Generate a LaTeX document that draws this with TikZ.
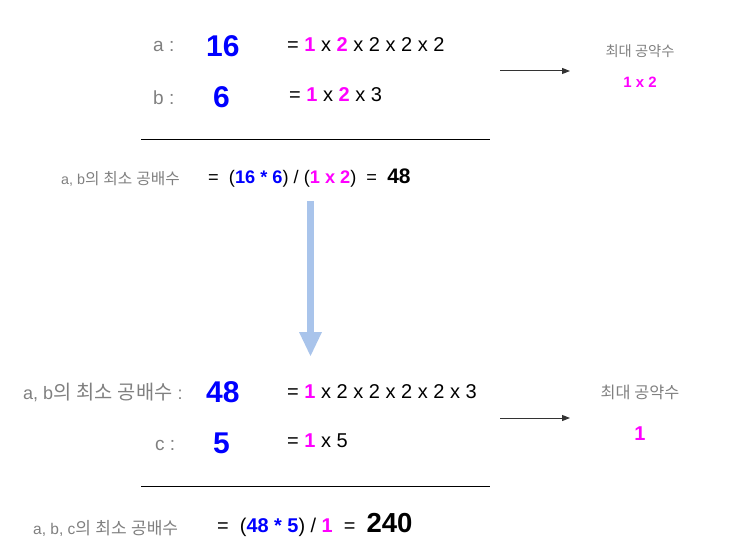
\documentclass[tikz,border=0pt]{standalone}
\usepackage{fontspec}
\setmainfont{Liberation Sans}
\newfontfamily\kofont[Scale=1.1]{Noto Sans CJK KR}
\usetikzlibrary{arrows.meta}
\definecolor{numBlue}{HTML}{0000FF}
\definecolor{factorPink}{HTML}{FF00FF}
\definecolor{labelGray}{HTML}{808080}
\definecolor{flowBlue}{HTML}{A9C4EB}
\definecolor{arrowGray}{HTML}{333333}
\newcommand{\fsz}[1]{\fontsize{#1}{#1}\selectfont}
\newcommand{\ko}[1]{{\kofont #1}}
\newcommand{\pk}[1]{{\bfseries\color{factorPink}#1}}
\newcommand{\bl}[1]{{\bfseries\color{numBlue}#1}}

\begin{document}
\begin{tikzpicture}
[x=1pt,y=-1pt,%
  labelDecorate/.style={anchor=base west,inner sep=0pt,text=labelGray},%
  numDecorate/.style={anchor=base west,inner sep=0pt,text=numBlue,font=\fsz{30}\bfseries},%
  factorDecorate/.style={anchor=base west,inner sep=0pt,font=\fsz{20}},%
  gcdDecorate/.style={anchor=base,inner sep=0pt},%
  ruleDecorate/.style={-,line width=1pt},%
  gcdArrowDecorate/.style={-{Triangle[width=6pt,length=8pt]},line width=1pt,draw=arrowGray},%
  flowDecorate/.style={-{Triangle[width=23pt,length=24pt,line width=0pt]},line width=7pt,draw=flowBlue}]
\useasboundingbox (0,0) rectangle (736,553);
%% left labels
\node (aLabel) at (153,52) [labelDecorate,font=\fsz{19}] {a :};
\node (bLabel) at (153,105) [labelDecorate,font=\fsz{19}] {b :};
\node (cLabel) at (155,450) [labelDecorate,font=\fsz{19}] {c :};
\node (abLabel) at (61,185) [labelDecorate,font=\fsz{14.3}] {a, b\ko{의} \ko{최소} \ko{공배수}};
\node (abLabelB) at (23,399) [labelDecorate,font=\fsz{18}] {a, b\ko{의} \ko{최소} \ko{공배수} :};
\node (abcLabel) at (33,534) [labelDecorate,font=\fsz{15.5}] {a, b, c\ko{의} \ko{최소} \ko{공배수}};
%% big numbers
\foreach \nodename/\x/\y/\val in {
  aNum/206/57/16, bNum/213/108/6, abNum/206/402/48, cNum/213/453/5}
{
  \node (\nodename) at (\x,\y) [numDecorate] {\val};
}
%% factors
\node (aFactor) at (287,52) [factorDecorate] {= \pk{1} x \pk{2} x 2 x 2 x 2};
\node (bFactor) at (289,102) [factorDecorate] {= \pk{1} x \pk{2} x 3};
\node (abFactor) at (287,398) [factorDecorate] {= \pk{1} x 2 x 2 x 2 x 2 x 3};
\node (cFactor) at (287,447) [factorDecorate] {= \pk{1} x 5};
%% results
\node (abEq) at (208,184) [factorDecorate,font=\fsz{18.2}]
  {=\ \ (\bl{16 * 6}) / (\pk{1 x 2})\ \ =\ \ {\fsz{21}\bfseries 48}};
\node (abcEq) at (217,532) [factorDecorate,font=\fsz{19.9}]
  {=\ \ (\bl{48 * 5}) / \pk{1}\ \ =\ \ {\fsz{27.5}\bfseries 240}};
%% greatest common divisors
\node (gcdTitleTop) at (640,57) [gcdDecorate,text=labelGray,font=\fsz{13}\kofont] {최대 공약수};
\node (gcdTop) at (640,88) [gcdDecorate,text=factorPink,font=\fsz{15}\bfseries] {1 x 2};
\node (gcdTitleBottom) at (640,398) [gcdDecorate,text=labelGray,font=\fsz{14.8}\kofont] {최대 공약수};
\node (gcdBottom) at (640,440) [gcdDecorate,text=factorPink,font=\fsz{20}\bfseries] {1};
%% lines and arrows
\coordinate (ruleTopL) at (141,140);
\coordinate (ruleTopR) at (490,140);
\coordinate (ruleBottomL) at (141,486);
\coordinate (ruleBottomR) at (490,486);
\coordinate (gcdFromTop) at (500,71);
\coordinate (gcdToTop) at (570,71);
\coordinate (gcdFromBottom) at (500,418);
\coordinate (gcdToBottom) at (570,418);
\coordinate (flowStart) at (310.5,201);
\coordinate (flowEnd) at (310.5,356);
\path
\foreach \startnode/\endnode in {ruleTopL/ruleTopR, ruleBottomL/ruleBottomR}
{
  (\startnode) edge[ruleDecorate] (\endnode)
};
\path
\foreach \startnode/\endnode in {gcdFromTop/gcdToTop, gcdFromBottom/gcdToBottom}
{
  (\startnode) edge[gcdArrowDecorate] (\endnode)
};
\draw[flowDecorate] (flowStart) -- (flowEnd);
\end{tikzpicture}
\end{document}
